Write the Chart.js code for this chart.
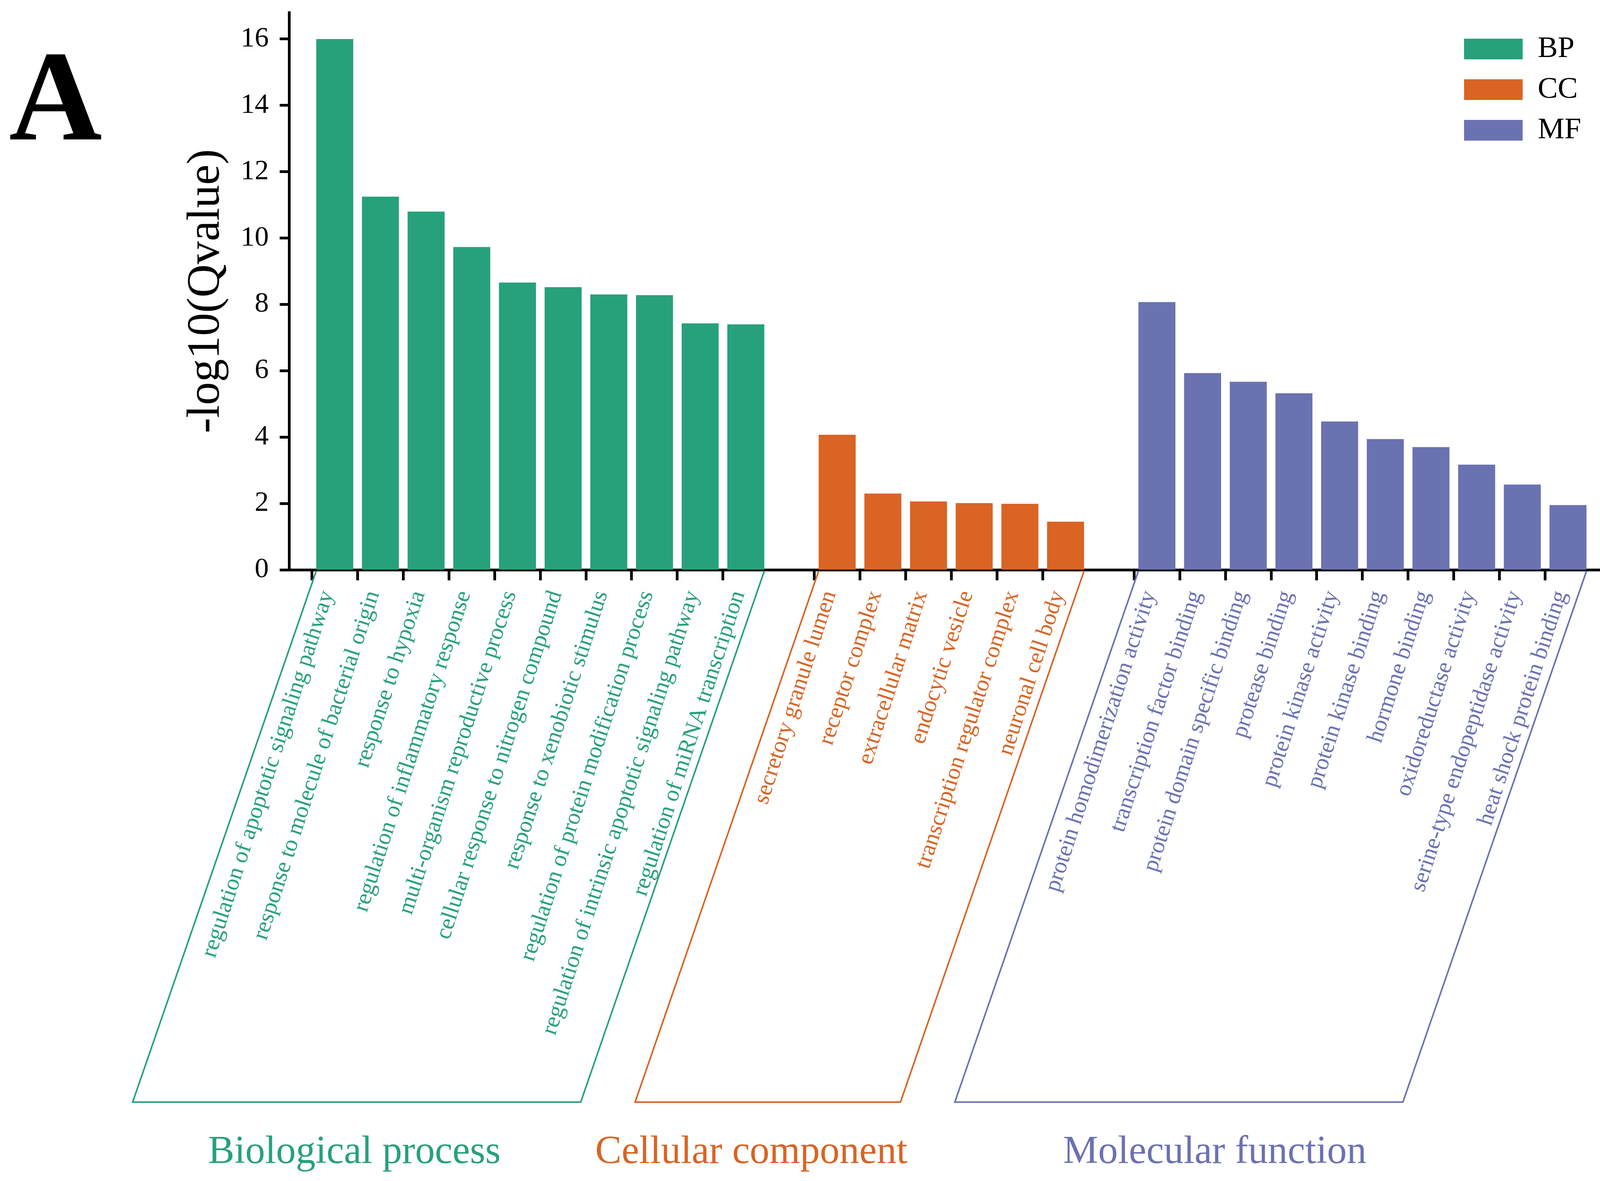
<!DOCTYPE html>
<html>
<head>
<meta charset="utf-8">
<script src="https://cdn.jsdelivr.net/npm/chart.js@4.4.1/dist/chart.umd.min.js"></script>
<style>
  html, body { margin: 0; padding: 0; background: #fff; }
  #wrap { width: 4166px; height: 3024px; position: relative; }
</style>
</head>
<body>
<div id="wrap"><canvas id="grafico"></canvas></div>
<script>
// termos e valores
const bpTerms = [
    'regulation of apoptotic signaling pathway',
    'response to molecule of bacterial origin',
    'response to hypoxia',
    'regulation of inflammatory response',
    'multi-organism reproductive process',
    'cellular response to nitrogen compound',
    'response to xenobiotic stimulus',
    'regulation of protein modification process',
    'regulation of intrinsic apoptotic signaling pathway',
    'regulation of miRNA transcription'
];
const bpValues = [16.0, 11.25, 10.8, 9.73, 8.66, 8.52, 8.3, 8.28, 7.43, 7.4];

const ccTerms = [
    'secretory granule lumen',
    'receptor complex',
    'extracellular matrix',
    'endocytic vesicle',
    'transcription regulator complex',
    'neuronal cell body'
];
const ccValues = [4.07, 2.3, 2.06, 2.01, 1.99, 1.45];

const mfTerms = [
    'protein homodimerization activity',
    'transcription factor binding',
    'protein domain specific binding',
    'protease binding',
    'protein kinase activity',
    'protein kinase binding',
    'hormone binding',
    'oxidoreductase activity',
    'serine-type endopeptidase activity',
    'heat shock protein binding'
];
const mfValues = [8.07, 5.93, 5.67, 5.32, 4.47, 3.94, 3.7, 3.17, 2.57, 1.95];

const groupNames = ['BP', 'CC', 'MF'];
const groupTitles = ['Biological process', 'Cellular component', 'Molecular function'];
const groupColors = ['#27A17B', '#D96424', '#6B72B2'];
const yTicks = [0, 2, 4, 6, 8, 10, 12, 14, 16];

const FONT = '"Liberation Serif", "Times New Roman", serif';

// monta categorias com um espaco vazio entre os grupos
const groupTerms = [bpTerms, ccTerms, mfTerms];
const groupValues = [bpValues, ccValues, mfValues];
const labels = [''];
const groupIndex = [null];
groupTerms.forEach((terms, g) => {
    terms.forEach(t => { labels.push(t); groupIndex.push(g); });
    labels.push('');
    groupIndex.push(null);
});

const datasets = groupNames.map((name, g) => {
    let k = 0;
    return {
        label: name,
        data: groupIndex.map(gi => gi === g ? groupValues[g][k++] : null),
        backgroundColor: groupColors[g],
        borderColor: groupColors[g],
        borderWidth: 0,
        barPercentage: 0.81,
        categoryPercentage: 1
    };
});

// caixas inclinadas e titulos dos grupos
const titleShift = [-6, -42, 92];
const groupBoxes = {
    id: 'groupBoxes',
    afterLayout(chart) {
        if (chart.legend) {
            chart.legend.left = 3721;
            chart.legend.top = 60;
        }
    },
    afterDraw(chart) {
        const ctx = chart.ctx;
        const top = chart.chartArea.bottom + 3;
        const bottom = top + 1360;
        const shift = 470;
        groupNames.forEach((n, g) => {
            const meta = chart.getDatasetMeta(g);
            const b0 = meta.data[groupIndex.indexOf(g)];
            const b1 = meta.data[groupIndex.lastIndexOf(g)];
            const xl = b0.x - b0.width / 2;
            const xr = b1.x + b1.width / 2;
            ctx.save();
            ctx.strokeStyle = groupColors[g];
            ctx.lineWidth = 4;
            ctx.beginPath();
            ctx.moveTo(xl, top);
            ctx.lineTo(xl - shift, bottom);
            ctx.lineTo(xr - shift, bottom);
            ctx.lineTo(xr, top);
            ctx.stroke();
            ctx.fillStyle = groupColors[g];
            ctx.font = '101px ' + FONT;
            ctx.textAlign = 'center';
            ctx.textBaseline = 'alphabetic';
            ctx.fillText(groupTitles[g], (xl + xr) / 2 - shift + titleShift[g], 2978);
            ctx.restore();
        });
        ctx.save();
        ctx.fillStyle = '#000';
        ctx.font = 'bold 330px ' + FONT;
        ctx.textAlign = 'left';
        ctx.textBaseline = 'alphabetic';
        ctx.fillText('A', 23, 357);
        ctx.restore();
    }
};

const ctx = document.getElementById('grafico').getContext('2d');
new Chart(ctx, {
    type: 'bar',
    data: { labels: labels, datasets: datasets },
    plugins: [groupBoxes],
    options: {
        responsive: true,
        maintainAspectRatio: false,
        devicePixelRatio: 1,
        animation: false,
        layout: { padding: { top: 32, right: 35, left: 0, bottom: 0 } },
        plugins: {
            tooltip: { enabled: false },
            legend: {
                position: 'chartArea',
                align: 'start',
                labels: {
                    boxWidth: 150,
                    boxHeight: 53,
                    padding: 27,
                    color: '#000',
                    font: { family: FONT, size: 77 }
                }
            }
        },
        scales: {
            x: {
                stacked: true,
                offset: false,
                afterFit: s => {
                    s.height = 3024 - 1459;
                    s.paddingLeft = 0; s.paddingRight = 0;
                    s.paddingTop = 0; s.paddingBottom = 0;
                },
                border: { display: true, color: '#000', width: 7 },
                grid: {
                    drawOnChartArea: false,
                    tickLength: 27,
                    tickWidth: 7,
                    tickColor: c => labels[c.index] ? '#000' : 'rgba(0,0,0,0)'
                },
                ticks: {
                    autoSkip: false,
                    minRotation: 72,
                    maxRotation: 72,
                    padding: 18,
                    labelOffset: -18,
                    color: c => groupIndex[c.index] == null ? '#000' : groupColors[groupIndex[c.index]],
                    font: { family: FONT, size: 59 }
                }
            },
            y: {
                stacked: true,
                min: 0,
                max: 16.8,
                afterBuildTicks: s => { s.ticks = yTicks.map(v => ({ value: v })); },
                afterFit: s => {
                    s.width = 740;
                    s.paddingLeft = 0; s.paddingRight = 0;
                    s.paddingTop = 0; s.paddingBottom = 0;
                },
                border: { display: true, color: '#000', width: 7 },
                grid: { drawOnChartArea: false, tickLength: 24, tickWidth: 7, tickColor: '#000' },
                ticks: { color: '#000', padding: 28, font: { family: FONT, size: 72 } },
                title: {
                    display: true,
                    text: '-log10(Qvalue)',
                    color: '#000',
                    font: { family: FONT, size: 118, lineHeight: 1 },
                    padding: { top: 470, bottom: 0 }
                }
            }
        }
    }
});
</script>
</body>
</html>
